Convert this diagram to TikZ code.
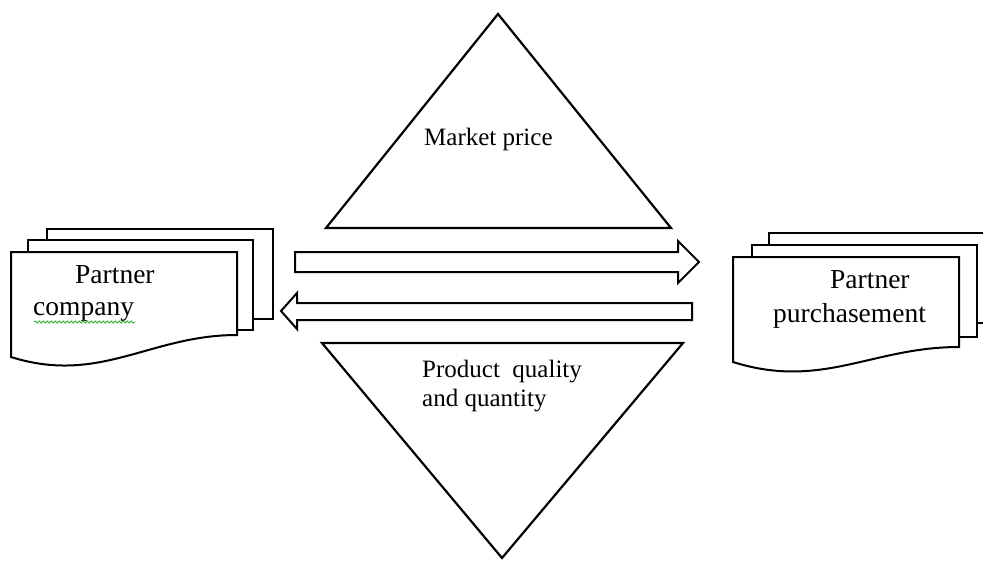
\documentclass[tikz,border=0pt]{standalone}
\usepackage{fontspec}
\setmainfont{Liberation Serif}
\usetikzlibrary{decorations.pathmorphing}
\begin{document}
\begin{tikzpicture}[x=1pt,y=-1pt,
  shapeline/.style={draw=black,line width=2pt,fill=white,line join=miter},
  triline/.style={draw=black,line width=2.2pt,line join=miter},
  lbl/.style={anchor=base west,inner sep=0pt,font=\fontsize{25}{30}\selectfont},
  doclbl/.style={anchor=base west,inner sep=0pt,font=\fontsize{27.5}{32}\selectfont}]
\useasboundingbox (0,0) rectangle (983,560);
\clip (0,0) rectangle (983,560);

% top triangle
\coordinate (tA) at (498,14);
\coordinate (tL) at (326,228);
\coordinate (tR) at (671,228);
\draw[triline] (tA) -- (tR) -- (tL) -- cycle;
\node[lbl] (mp) at (424,145) {Market price};

% bottom triangle
\coordinate (bL) at (322,343);
\coordinate (bR) at (683,343);
\coordinate (bA) at (502,558);
\draw[triline] (bL) -- (bR) -- (bA) -- cycle;
\node[lbl] (pq1) at (422,377) {Product\ \ quality};
\node[lbl] (pq2) at (422,406) {and quantity};

% left document stack
\draw[shapeline] (47,229) rectangle (273,319);
\draw[shapeline] (28,240) rectangle (253,330);
\draw[shapeline] (11,252) -- (237,252) -- (237,335)
   .. controls (150,335) and (100,385) .. (11,357) -- cycle;
\node[doclbl] (lp) at (75,283) {Partner};
\node[doclbl] (lc) at (33,315) {company};
\draw[green!60!black!80,line width=0.8pt,decorate,
  decoration={snake,segment length=4pt,amplitude=1pt}] (34,322) -- (135,322);

% right document stack
\draw[shapeline] (769,233) rectangle (1000,323);
\draw[shapeline] (752,245) rectangle (977,337);
\draw[shapeline] (733,257) -- (959,257) -- (959,347)
   .. controls (872,347) and (822,390) .. (733,362) -- cycle;
\node[doclbl] (rp) at (830,288) {Partner};
\node[doclbl] (rc) at (773,322) {purchasement};

% block arrows
\draw[shapeline] (295,252) -- (678,252) -- (678,241) -- (699,262)
  -- (678,283) -- (678,272) -- (295,272) -- cycle;
\draw[shapeline] (692,303) -- (297,303) -- (297,293) -- (281,311)
  -- (297,329) -- (297,320) -- (692,320) -- cycle;
\end{tikzpicture}
\end{document}
